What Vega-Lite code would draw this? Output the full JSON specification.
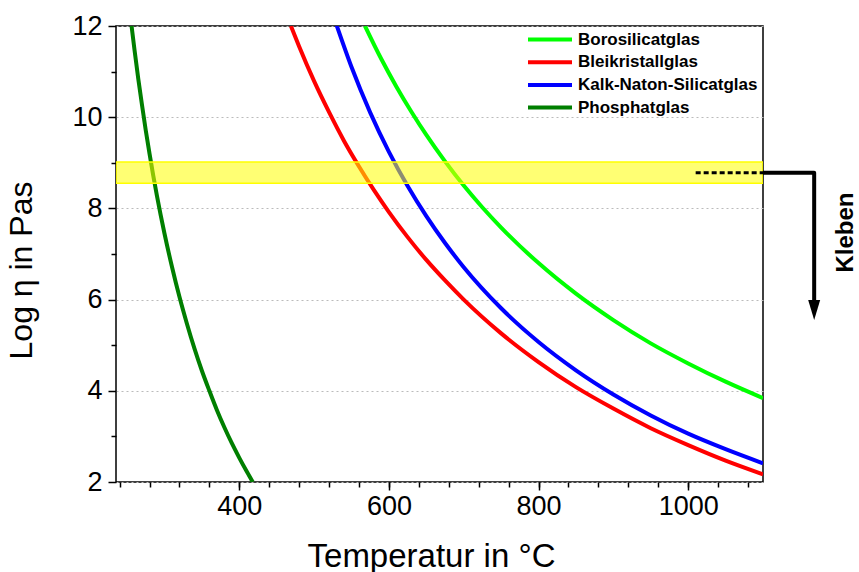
{
  "$schema": "https://vega.github.io/schema/vega-lite/v6.json",
  "width": 647,
  "height": 456,
  "autosize": {"type": "none"},
  "padding": {"left": 116, "top": 26, "right": 96, "bottom": 90},
  "background": "white",
  "config": {
    "view": {"stroke": "black", "strokeWidth": 1.5},
    "font": "Liberation Sans",
    "axis": {"labelColor": "black", "titleColor": "black", "tickColor": "black", "domainColor": "black", "titleFontWeight": "normal", "labelFont": "Liberation Sans", "titleFont": "Liberation Sans"}
  },
  "datasets": {
    "curves": [
      {"glass": "Phosphatglas", "T": 256, "v": 12.0},
      {"glass": "Phosphatglas", "T": 260, "v": 11.47},
      {"glass": "Phosphatglas", "T": 265, "v": 10.84},
      {"glass": "Phosphatglas", "T": 270, "v": 10.26},
      {"glass": "Phosphatglas", "T": 275, "v": 9.71},
      {"glass": "Phosphatglas", "T": 280, "v": 9.2},
      {"glass": "Phosphatglas", "T": 285, "v": 8.72},
      {"glass": "Phosphatglas", "T": 290, "v": 8.27},
      {"glass": "Phosphatglas", "T": 300, "v": 7.45},
      {"glass": "Phosphatglas", "T": 310, "v": 6.72},
      {"glass": "Phosphatglas", "T": 320, "v": 6.06},
      {"glass": "Phosphatglas", "T": 330, "v": 5.47},
      {"glass": "Phosphatglas", "T": 340, "v": 4.93},
      {"glass": "Phosphatglas", "T": 350, "v": 4.44},
      {"glass": "Phosphatglas", "T": 360, "v": 4.0},
      {"glass": "Phosphatglas", "T": 370, "v": 3.58},
      {"glass": "Phosphatglas", "T": 380, "v": 3.2},
      {"glass": "Phosphatglas", "T": 390, "v": 2.85},
      {"glass": "Phosphatglas", "T": 400, "v": 2.53},
      {"glass": "Phosphatglas", "T": 410, "v": 2.23},
      {"glass": "Phosphatglas", "T": 418, "v": 2.0},
      {"glass": "Bleikristallglas", "T": 469, "v": 12.0},
      {"glass": "Bleikristallglas", "T": 480, "v": 11.55},
      {"glass": "Bleikristallglas", "T": 500, "v": 10.79},
      {"glass": "Bleikristallglas", "T": 520, "v": 10.11},
      {"glass": "Bleikristallglas", "T": 540, "v": 9.48},
      {"glass": "Bleikristallglas", "T": 560, "v": 8.92},
      {"glass": "Bleikristallglas", "T": 580, "v": 8.4},
      {"glass": "Bleikristallglas", "T": 600, "v": 7.92},
      {"glass": "Bleikristallglas", "T": 625, "v": 7.37},
      {"glass": "Bleikristallglas", "T": 650, "v": 6.87},
      {"glass": "Bleikristallglas", "T": 675, "v": 6.42},
      {"glass": "Bleikristallglas", "T": 700, "v": 6.0},
      {"glass": "Bleikristallglas", "T": 750, "v": 5.26},
      {"glass": "Bleikristallglas", "T": 800, "v": 4.63},
      {"glass": "Bleikristallglas", "T": 850, "v": 4.08},
      {"glass": "Bleikristallglas", "T": 900, "v": 3.61},
      {"glass": "Bleikristallglas", "T": 950, "v": 3.18},
      {"glass": "Bleikristallglas", "T": 1000, "v": 2.81},
      {"glass": "Bleikristallglas", "T": 1050, "v": 2.47},
      {"glass": "Bleikristallglas", "T": 1100, "v": 2.17},
      {"glass": "Kalk-Naton-Silicatglas", "T": 530, "v": 12.02},
      {"glass": "Kalk-Naton-Silicatglas", "T": 550, "v": 11.1},
      {"glass": "Kalk-Naton-Silicatglas", "T": 575, "v": 10.1},
      {"glass": "Kalk-Naton-Silicatglas", "T": 600, "v": 9.24},
      {"glass": "Kalk-Naton-Silicatglas", "T": 625, "v": 8.49},
      {"glass": "Kalk-Naton-Silicatglas", "T": 650, "v": 7.83},
      {"glass": "Kalk-Naton-Silicatglas", "T": 675, "v": 7.24},
      {"glass": "Kalk-Naton-Silicatglas", "T": 700, "v": 6.71},
      {"glass": "Kalk-Naton-Silicatglas", "T": 750, "v": 5.81},
      {"glass": "Kalk-Naton-Silicatglas", "T": 800, "v": 5.07},
      {"glass": "Kalk-Naton-Silicatglas", "T": 850, "v": 4.45},
      {"glass": "Kalk-Naton-Silicatglas", "T": 900, "v": 3.92},
      {"glass": "Kalk-Naton-Silicatglas", "T": 950, "v": 3.46},
      {"glass": "Kalk-Naton-Silicatglas", "T": 1000, "v": 3.06},
      {"glass": "Kalk-Naton-Silicatglas", "T": 1050, "v": 2.72},
      {"glass": "Kalk-Naton-Silicatglas", "T": 1100, "v": 2.41},
      {"glass": "Borosilicatglas", "T": 568, "v": 12.0},
      {"glass": "Borosilicatglas", "T": 590, "v": 11.27},
      {"glass": "Borosilicatglas", "T": 610, "v": 10.67},
      {"glass": "Borosilicatglas", "T": 630, "v": 10.12},
      {"glass": "Borosilicatglas", "T": 650, "v": 9.61},
      {"glass": "Borosilicatglas", "T": 675, "v": 9.03},
      {"glass": "Borosilicatglas", "T": 700, "v": 8.5},
      {"glass": "Borosilicatglas", "T": 725, "v": 8.02},
      {"glass": "Borosilicatglas", "T": 750, "v": 7.58},
      {"glass": "Borosilicatglas", "T": 800, "v": 6.8},
      {"glass": "Borosilicatglas", "T": 850, "v": 6.13},
      {"glass": "Borosilicatglas", "T": 900, "v": 5.55},
      {"glass": "Borosilicatglas", "T": 950, "v": 5.04},
      {"glass": "Borosilicatglas", "T": 1000, "v": 4.6},
      {"glass": "Borosilicatglas", "T": 1050, "v": 4.2},
      {"glass": "Borosilicatglas", "T": 1100, "v": 3.84}
    ],
    "band": [{"T": 235.2, "T2": 1100, "v": 8.55, "v2": 9.02}],
    "dashed": [{"T": 1010, "v": 8.78}, {"T": 1100, "v": 8.78}],
    "arrow": [
      {"T": 1100, "v": 8.78, "o": 1},
      {"T": 1168.4, "v": 8.78, "o": 2},
      {"T": 1168.4, "v": 5.95, "o": 3}
    ],
    "head": [{"T": 1168.4, "v": 5.77}],
    "label": [{"T": 1210.7, "v": 7.47, "text": "Kleben"}]
  },
  "resolve": {"axis": {"x": "independent", "y": "independent"}},
  "layer": [
    {
      "data": {"name": "curves"},
      "mark": {"type": "line", "strokeWidth": 4, "interpolate": "monotone", "clip": true},
      "encoding": {
        "x": {
          "field": "T", "type": "quantitative",
          "scale": {"domain": [235.2, 1100], "nice": false, "zero": false},
          "axis": {"orient": "bottom", "values": [400, 600, 800, 1000], "format": "d", "tickSize": 8, "tickWidth": 1.5, "domain": false, "grid": false, "labelFontSize": 27, "labelPadding": 3, "title": "Temperatur in °C", "titleFontSize": 33, "titleX": 315, "titleY": 74, "titleAlign": "center", "titleBaseline": "middle"}
        },
        "y": {
          "field": "v", "type": "quantitative",
          "scale": {"domain": [2, 12], "nice": false, "zero": false},
          "axis": {"orient": "left", "values": [2, 4, 6, 8, 10, 12], "tickSize": 8, "tickWidth": 1.5, "domain": false, "grid": true, "gridDash": [2, 3], "gridColor": "#bbbbbb", "gridWidth": 1, "labelFontSize": 27, "labelPadding": 6, "title": "Log η in Pas", "titleFontSize": 32, "titleX": -95, "titleY": 244, "titleAngle": 270, "titleAlign": "center", "titleBaseline": "middle"}
        },
        "color": {
          "field": "glass", "type": "nominal",
          "scale": {"domain": ["Borosilicatglas", "Bleikristallglas", "Kalk-Naton-Silicatglas", "Phosphatglas"], "range": ["#00ff00", "#ff0000", "#0000ff", "#007f00"]},
          "legend": {"orient": "none", "legendX": 442, "legendY": 5, "title": null, "symbolType": "M-7,0H1", "symbolSize": 121, "symbolStrokeWidth": 4, "labelFont": "Liberation Sans", "labelFontSize": 17, "labelFontWeight": "bold", "labelColor": "black", "rowPadding": 4.7, "padding": 0, "labelOffset": 3, "labelLimit": 300}
        }
      }
    },
    {
      "data": {"name": "band"},
      "mark": {"type": "rect", "fill": "#ffff00", "fillOpacity": 0.55, "stroke": "#ffff00", "strokeWidth": 1.5, "clip": true},
      "encoding": {
        "x": {"field": "T", "type": "quantitative", "axis": {"orient": "bottom", "values": [240, 280, 320, 360, 400, 440, 480, 520, 560, 600, 640, 680, 720, 760, 800, 840, 880, 920, 960, 1000, 1040, 1080], "tickSize": 5, "tickWidth": 1.5, "labels": false, "domain": false, "grid": false, "title": null}},
        "x2": {"field": "T2"},
        "y": {"field": "v", "type": "quantitative", "axis": {"orient": "left", "values": [3, 5, 7, 9, 11], "tickSize": 5, "tickWidth": 1.5, "labels": false, "domain": false, "grid": false, "title": null}},
        "y2": {"field": "v2"}
      }
    },
    {
      "data": {"name": "dashed"},
      "mark": {"type": "line", "color": "black", "strokeWidth": 3, "strokeDash": [5, 3], "clip": true},
      "encoding": {
        "x": {"field": "T", "type": "quantitative", "axis": null},
        "y": {"field": "v", "type": "quantitative", "axis": null}
      }
    },
    {
      "data": {"name": "arrow"},
      "mark": {"type": "line", "color": "black", "strokeWidth": 4, "strokeJoin": "round", "clip": false},
      "encoding": {
        "x": {"field": "T", "type": "quantitative", "axis": null},
        "y": {"field": "v", "type": "quantitative", "axis": null},
        "order": {"field": "o"}
      }
    },
    {
      "data": {"name": "head"},
      "mark": {"type": "point", "shape": "M-0.6,-1L0.6,-1L0,1Z", "size": 400, "filled": true, "color": "black", "opacity": 1, "clip": false},
      "encoding": {
        "x": {"field": "T", "type": "quantitative", "axis": null},
        "y": {"field": "v", "type": "quantitative", "axis": null}
      }
    },
    {
      "data": {"name": "label"},
      "mark": {"type": "text", "angle": 270, "align": "center", "baseline": "middle", "font": "Liberation Sans", "fontSize": 24, "fontWeight": "bold", "color": "black", "clip": false},
      "encoding": {
        "x": {"field": "T", "type": "quantitative", "axis": null},
        "y": {"field": "v", "type": "quantitative", "axis": null},
        "text": {"field": "text"}
      }
    }
  ]
}
